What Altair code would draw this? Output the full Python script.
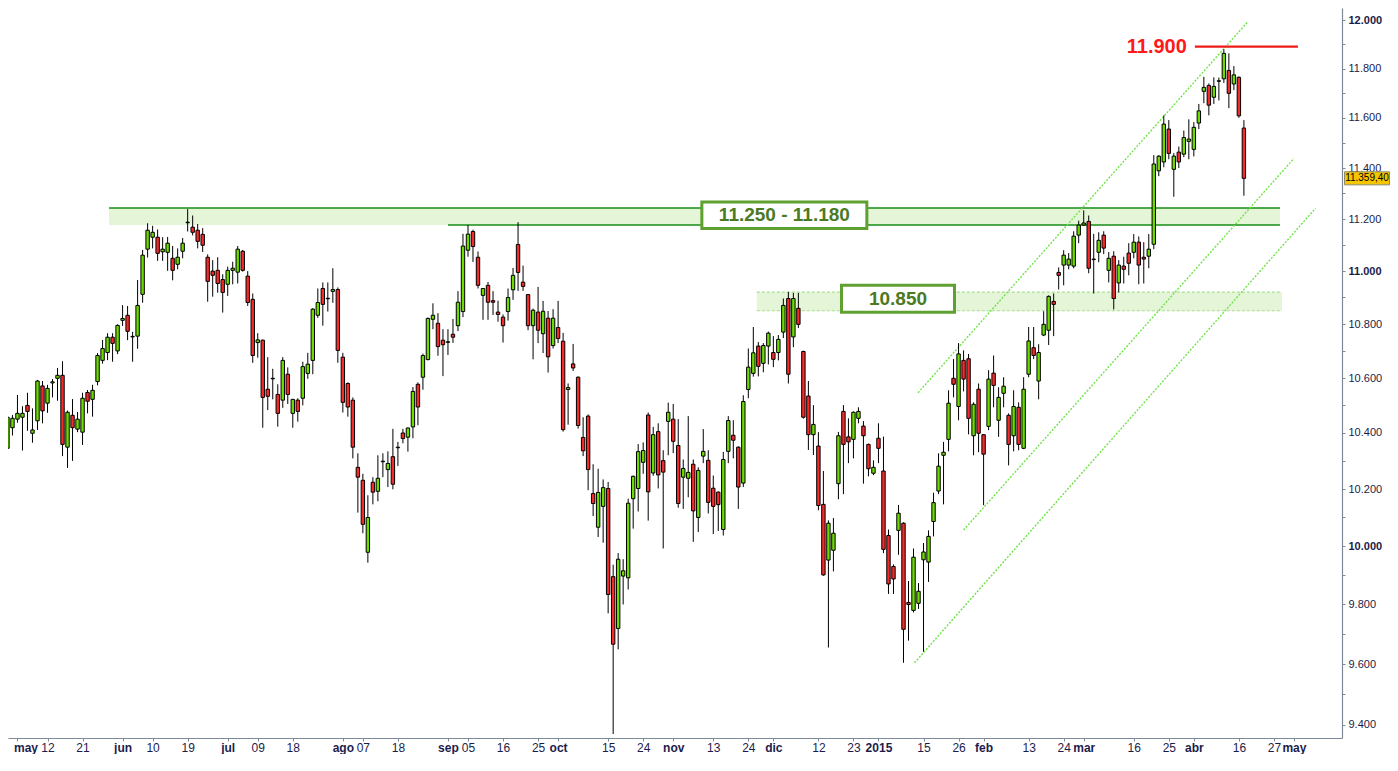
import json
import altair as alt
import pandas as pd

# ---------------- candle data (trading-day index starts at FIRST_IDX) ----------------
FIRST_IDX = -2
opens = [
    10345, 10419, 10450, 10457, 10500, 10399, 10444, 10571, 10508, 10582,
    10599, 10610, 10349, 10464, 10414, 10403, 10547, 10522, 10587, 10665,
    10694, 10751, 10700, 10814, 10833, 10752, 10755, 10912, 11084, 11130,
    11130, 11074, 11072, 11049, 11026, 11076, 11186, 11169, 11157, 11141,
    11053, 11000, 11003, 10968, 10950, 11003, 10996, 11076, 10981, 10893,
    10731, 10740, 10559, 10597, 10540, 10519, 10614, 10471, 10519, 10526,
    10617, 10665, 10833, 10934, 10895, 10923, 10930, 10677, 10580, 10519,
    10277, 10231, 9979, 10224, 10192, 10297, 10269, 10315, 10347, 10400,
    10385, 10422, 10577, 10603, 10668, 10818, 10803, 10740, 10732, 10762,
    10794, 10847, 11080, 11152, 11053, 10908, 10946, 10888, 10845, 10826,
    10847, 10929, 11102, 10958, 10911, 10794, 10845, 10764, 10822, 10720,
    10787, 10736, 10558, 10652, 10603, 10384, 10461, 10184, 10066, 10139,
    10202, 9895, 9719, 9897, 9891, 10166, 10202, 10295, 10465, 10257,
    10405, 10301, 10442, 10450, 10355, 10242, 10238, 10288, 10100, 10317,
    10302, 10203, 10189, 10058, 10334, 10392, 10349, 10221, 10558, 10617,
    10718, 10654, 10718, 10694, 10694, 10770, 10896, 10752, 10859, 10698,
    10534, 10394, 10353, 10146, 9952, 9986, 10219, 10478, 10386, 10377,
    10453, 10425, 10359, 10256, 10381, 10264, 10037, 9930, 10055, 10080,
    9807, 9780, 9804, 9953, 9945, 10086, 10193, 10320, 10377, 10599,
    10496, 10665, 10671, 10390, 10559, 10394, 10424, 10618, 10446, 10544,
    10464, 10390, 10493, 10345, 10614, 10712, 10589, 10759, 10777, 10885,
    10995, 11023, 11023, 11019, 11138, 11177, 11191, 11044, 11072, 11138,
    11003, 11057, 10955, 11019, 11069, 11072, 11111, 11053, 11057, 11103,
    11389, 11424, 11555, 11395, 11463, 11455, 11506, 11474, 11579, 11707,
    11731, 11683, 11748, 11758, 11792, 11737, 11764, 11559,
]
highs = [
    10486, 10465, 10538, 10497, 10546, 10489, 10593, 10589, 10575, 10596,
    10637, 10662, 10481, 10523, 10476, 10546, 10556, 10575, 10692, 10741,
    10766, 10766, 10799, 10871, 10868, 10771, 10966, 11081, 11184, 11174,
    11160, 11130, 11131, 11096, 11087, 11127, 11239, 11214, 11181, 11165,
    11064, 11042, 11053, 10988, 11017, 11036, 11096, 11081, 11000, 10915,
    10766, 10742, 10677, 10634, 10577, 10677, 10639, 10522, 10526, 10660,
    10693, 10860, 10934, 10957, 10957, 11011, 10938, 10693, 10584, 10529,
    10327, 10254, 10178, 10242, 10320, 10327, 10334, 10415, 10368, 10415,
    10420, 10567, 10584, 10690, 10825, 10878, 10841, 10781, 10781, 10819,
    10924, 11143, 11177, 11159, 11075, 10934, 10959, 10924, 10888, 10836,
    10934, 11012, 11188, 11021, 10911, 10858, 10940, 10887, 10849, 10856,
    10887, 10767, 10580, 10726, 10606, 10457, 10467, 10288, 10272, 10234,
    10225, 9936, 9976, 9955, 10166, 10248, 10360, 10366, 10474, 10422,
    10435, 10338, 10510, 10505, 10450, 10305, 10461, 10305, 10277, 10414,
    10338, 10248, 10192, 10332, 10461, 10446, 10352, 10537, 10709, 10789,
    10733, 10729, 10772, 10755, 10759, 10896, 10921, 10917, 10917, 10701,
    10589, 10501, 10403, 10264, 10090, 10098, 10404, 10501, 10453, 10478,
    10493, 10443, 10362, 10302, 10435, 10387, 10058, 9937, 10144, 10083,
    9880, 9992, 9873, 10011, 10055, 10187, 10327, 10368, 10555, 10670,
    10729, 10702, 10689, 10511, 10580, 10396, 10629, 10683, 10566, 10603,
    10471, 10555, 10511, 10603, 10789, 10789, 10725, 10848, 10908, 10915,
    11014, 11080, 11069, 11153, 11194, 11234, 11214, 11143, 11149, 11153,
    11073, 11076, 11042, 11055, 11107, 11142, 11133, 11111, 11142, 11451,
    11451, 11610, 11591, 11459, 11485, 11549, 11594, 11583, 11656, 11766,
    11739, 11764, 11763, 11879, 11862, 11810, 11768, 11591,
]
lows = [
    10337, 10391, 10437, 10337, 10408, 10365, 10411, 10435, 10473, 10529,
    10517, 10317, 10275, 10300, 10403, 10357, 10471, 10459, 10573, 10653,
    10666, 10660, 10688, 10793, 10740, 10660, 10708, 10880, 11052, 11087,
    11039, 11039, 11001, 10965, 11007, 11049, 11152, 11137, 11087, 11073,
    10884, 10903, 10918, 10843, 10906, 10950, 10953, 10998, 10868, 10656,
    10675, 10419, 10483, 10522, 10423, 10491, 10505, 10419, 10441, 10500,
    10597, 10614, 10823, 10794, 10847, 10880, 10656, 10474, 10459, 10309,
    10117, 10045, 9943, 10146, 10157, 10242, 10207, 10199, 10282, 10363,
    10333, 10381, 10428, 10557, 10665, 10781, 10682, 10607, 10685, 10730,
    10774, 10826, 11055, 11035, 10934, 10816, 10816, 10834, 10809, 10731,
    10813, 10891, 10925, 10925, 10777, 10669, 10729, 10692, 10620, 10709,
    10729, 10405, 10430, 10626, 10416, 10317, 10196, 10105, 10032, 10012,
    9770, 9370, 9649, 9800, 9851, 10061, 10121, 10254, 10089, 10247,
    10202, 9992, 10320, 10328, 10134, 10130, 10171, 10015, 10049, 10292,
    10114, 10042, 10053, 10037, 10292, 10309, 10130, 10207, 10526, 10605,
    10606, 10621, 10650, 10640, 10665, 10748, 10580, 10714, 10785, 10452,
    10339, 10321, 10125, 9898, 9655, 9913, 10164, 10182, 10292, 10309,
    10435, 10219, 10245, 10249, 10292, 9976, 9836, 9836, 9970, 9604,
    9678, 9773, 9785, 9641, 9877, 10034, 10182, 10146, 10334, 10529,
    10446, 10551, 10395, 10320, 10331, 10143, 10410, 10493, 10386, 10493,
    10284, 10334, 10338, 10342, 10603, 10670, 10522, 10755, 10722, 10755,
    10930, 10946, 11007, 11011, 11107, 11174, 10992, 10915, 11034, 11065,
    10957, 10855, 10919, 10953, 10984, 11049, 10950, 10953, 11011, 11084,
    11368, 11403, 11435, 11287, 11400, 11443, 11435, 11446, 11555, 11659,
    11610, 11656, 11670, 11741, 11639, 11712, 11600, 11291,
]
closes = [
    10457, 10453, 10471, 10471, 10478, 10411, 10589, 10480, 10562, 10586,
    10610, 10359, 10475, 10419, 10450, 10526, 10515, 10555, 10683, 10709,
    10751, 10728, 10795, 10821, 10773, 10754, 10870, 11061, 11157, 11149,
    11068, 11084, 11107, 11003, 11053, 11107, 11188, 11149, 11114, 11099,
    10961, 10984, 10953, 10919, 11003, 11011, 11084, 11003, 10881, 10683,
    10741, 10529, 10533, 10599, 10471, 10665, 10540, 10522, 10478, 10642,
    10651, 10856, 10881, 10874, 10897, 10930, 10702, 10511, 10494, 10349,
    10242, 10076, 10100, 10189, 10238, 10299, 10291, 10217, 10349, 10380,
    10418, 10551, 10494, 10683, 10821, 10833, 10716, 10723, 10734, 10751,
    10882, 11096, 11142, 11094, 10946, 10934, 10882, 10882, 10836, 10794,
    10900, 10984, 10995, 10942, 10794, 10852, 10777, 10848, 10678, 10822,
    10746, 10412, 10565, 10637, 10427, 10336, 10269, 10149, 10188, 10205,
    9834, 9666, 9955, 9915, 10150, 10245, 10333, 10337, 10190, 10394,
    10250, 10260, 10475, 10370, 10149, 10273, 10259, 10123, 10266, 10334,
    10153, 10139, 10145, 10305, 10445, 10374, 10207, 10514, 10640, 10693,
    10643, 10720, 10766, 10669, 10743, 10870, 10614, 10896, 10799, 10457,
    10394, 10431, 10142, 9901, 10080, 10045, 10390, 10359, 10368, 10475,
    10478, 10390, 10272, 10277, 10345, 9989, 9870, 9887, 10115, 9716,
    9800, 9962, 9845, 9980, 10034, 10152, 10281, 10331, 10508, 10577,
    10689, 10596, 10453, 10504, 10399, 10324, 10596, 10573, 10529, 10570,
    10359, 10496, 10359, 10559, 10737, 10683, 10694, 10799, 10904, 10874,
    10984, 11061, 11046, 11134, 11177, 11185, 11011, 11046, 11118, 11088,
    11049, 10896, 11023, 11007, 11030, 11111, 11023, 11046, 11084, 11416,
    11447, 11575, 11458, 11447, 11424, 11521, 11515, 11562, 11628, 11723,
    11651, 11727, 11750, 11862, 11699, 11774, 11608, 11359.4,
]

# ---------------- axis ticks ----------------
x_ticks = [0, 6, 13, 21, 27, 34, 42, 48, 55, 65, 69, 76, 86, 90, 97, 104, 108, 118, 125,
           131, 139, 146, 151, 160, 167, 172, 181, 188, 193, 202, 209, 213, 223, 230,
           235, 244, 251, 255]
x_labels = ["may", "12", "21", "jun", "10", "19", "jul", "09", "18", "ago", "07", "18",
            "sep", "05", "16", "25", "oct", "15", "24", "nov", "13", "24", "dic", "12",
            "23", "2015", "15", "26", "feb", "13", "24", "mar", "16", "25", "abr", "16",
            "27", "may"]
month_ticks = [0, 21, 42, 65, 86, 108, 131, 151, 172, 193, 213, 235, 255]
y_ticks = list(range(9400, 12001, 100))

# ---------------- annotations (trading-day index, index level) ----------------
zone1_levels = [11177, 11243]
zone1_span = [18.3, 252.2]
zone1_bottom_line_start = 86
zone2_levels = [10850, 10920]
zone2_span = [147.7, 252.6]

channel_names = ["A", "A", "B", "B", "C", "C"]
channel_idx = [179.9, 245.8, 189.0, 255.0, 179.2, 259.3]
channel_val = [10546, 11993, 10056, 11438, 9604, 11242]

box_texts = ["11.250 - 11.180", "10.850"]
box_idx = [153.2, 175.9]
box_val = [11215, 10895]

top_level = 11890
top_level_span = [235.2, 255.8]
top_text = "11.900"
top_text_idx = 233.6

# ---------------- styling ----------------
GREEN = "#6cdc00"
RED = "#f52a2a"
AXIS_C = "#7d8b99"
ZONE_FILL = "#e4f5d8"
ZONE_LINE = "#168c16"
ZONE2_LINE = "#a6df8c"
CHANNEL = "#6fe448"
BOX_STROKE = "#5fa030"
BOX_TEXT = "#4b7a22"

W, H = 1334, 730
xscale = alt.Scale(domain=[-0.892, 263.6], nice=False, zero=False)
yscale = alt.Scale(type="log", domain=[9357, 12050], nice=False, zero=False)

month_test = f"indexof({json.dumps(month_ticks)}, datum.value) >= 0"
x_axis = alt.Axis(
    orient="bottom", values=x_ticks, title=None, grid=False,
    labelExpr=f"{json.dumps(x_labels)}[indexof({json.dumps(x_ticks)}, datum.value)]",
    tickSize=3, tickColor=AXIS_C, domainColor=AXIS_C, domainWidth=1.2, tickWidth=1,
    labelPadding=1, labelFontSize=12, labelColor="#1c1c4c",
    labelFontWeight={"condition": {"test": month_test, "value": "bold"}, "value": "normal"},
    labelFont={"condition": {"test": month_test, "value": "Liberation Sans"},
               "value": "Liberation Sans Narrow, Liberation Sans"},
    labelAlign={"condition": {"test": "datum.value == 0", "value": "left"}, "value": "center"},
    labelOffset={"condition": {"test": "datum.value == 0", "value": -4}, "value": 0},
    labelOverlap=False, labelFlush=False, labelBound=False,
)
y_axis = alt.Axis(
    orient="right", values=y_ticks, title=None, grid=False,
    labelExpr="datum.value % 200 == 0 ? replace(format(datum.value, ',.0f'), ',', '.') : ''",
    tickSize=3, tickColor=AXIS_C, domainColor=AXIS_C, domainWidth=1.2,
    labelPadding=3, labelFontSize=11, labelFont="Liberation Sans", labelColor="#1b1b48",
    labelFontWeight={"condition": {"test": "datum.value % 1000 == 0", "value": "bold"},
                     "value": "normal"},
    labelOverlap=False, labelFlush=False, labelBound=False,
)


def X(f):
    return alt.X(f, type="quantitative", scale=xscale, axis=x_axis, title=None)


def Y(f):
    return alt.Y(f, type="quantitative", scale=yscale, axis=y_axis, title=None)


n = len(opens)
candles = pd.DataFrame({
    "idx": list(range(FIRST_IDX, FIRST_IDX + n)),
    "open": opens, "high": highs, "low": lows, "close": closes,
})

zones = pd.DataFrame({
    "x": [zone1_span[0], zone2_span[0]], "x2": [zone1_span[1], zone2_span[1]],
    "lo": [zone1_levels[0], zone2_levels[0]], "hi": [zone1_levels[1], zone2_levels[1]],
})
zone1_lines = pd.DataFrame({
    "x": [zone1_span[0], zone1_bottom_line_start],
    "x2": [zone1_span[1], zone1_span[1]],
    "y": [zone1_levels[1], zone1_levels[0]],
})
zone2_lines = pd.DataFrame({
    "x": [zone2_span[0], zone2_span[0]], "x2": [zone2_span[1], zone2_span[1]],
    "y": [zone2_levels[0], zone2_levels[1]],
})
channels = pd.DataFrame({"line": channel_names, "idx": channel_idx, "val": channel_val})
boxes = pd.DataFrame({"text": box_texts, "idx": box_idx, "val": box_val})
top_df = pd.DataFrame({"x": [top_level_span[0]], "x2": [top_level_span[1]], "y": [top_level],
                       "tx": [top_text_idx], "text": [top_text]})
last = closes[-1]
tag_df = pd.DataFrame({"price": [last],
                       "label": [f"{last:,.2f}".replace(",", "#").replace(".", ",").replace("#", ".")]})

zone_rect = alt.Chart(zones).mark_rect(color=ZONE_FILL, clip=True).encode(
    x=X("x"), x2="x2", y=Y("lo"), y2="hi")
z1 = alt.Chart(zone1_lines).mark_rule(color=ZONE_LINE, strokeWidth=1.5, clip=True).encode(
    x=X("x"), x2="x2", y=Y("y"))
z2 = alt.Chart(zone2_lines).mark_rule(color=ZONE2_LINE, strokeWidth=1.2, strokeDash=[3, 2],
                                      clip=True).encode(x=X("x"), x2="x2", y=Y("y"))
chan = alt.Chart(channels).mark_line(color=CHANNEL, strokeWidth=1.4, strokeDash=[2, 1.5],
                                     clip=True).encode(x=X("idx"), y=Y("val"), detail="line:N")
wicks = alt.Chart(candles).mark_rule(color="black", strokeWidth=1, clip=True).encode(
    x=X("idx"), y=Y("low"), y2="high")
bodies = alt.Chart(candles).mark_bar(size=3.4, stroke="black", strokeWidth=1, opacity=1,
                                     clip=True).encode(
    x=X("idx"), y=Y("open"), y2="close",
    fill=alt.condition("datum.close >= datum.open", alt.value(GREEN), alt.value(RED)))
top_line = alt.Chart(top_df).mark_rule(color="#ee1b1b", strokeWidth=2.2).encode(
    x=X("x"), x2="x2", y=Y("y"))
top_txt = alt.Chart(top_df).mark_text(align="right", baseline="middle", font="Liberation Sans",
                                      fontSize=20, fontWeight="bold", color="#ff1a1a").encode(
    x=X("tx"), y=Y("y"), text="text")

box1 = alt.Chart(boxes.iloc[[0]]).mark_point(
    shape="M-1,-0.161L1,-0.161L1,0.161L-1,0.161Z", size=27225, filled=True, fill="white",
    stroke=BOX_STROKE, strokeWidth=3, opacity=1).encode(x=X("idx"), y=Y("val"))
box2 = alt.Chart(boxes.iloc[[1]]).mark_point(
    shape="M-1,-0.239L1,-0.239L1,0.239L-1,0.239Z", size=12769, filled=True, fill="white",
    stroke=BOX_STROKE, strokeWidth=3, opacity=1).encode(x=X("idx"), y=Y("val"))
box_txt = alt.Chart(boxes).mark_text(align="center", baseline="middle", font="Liberation Sans",
                                     fontSize=19, fontWeight="bold", color=BOX_TEXT).encode(
    x=X("idx"), y=Y("val"), text="text")

tag = alt.Chart(tag_df).mark_point(
    shape="M-1,-0.29L1,-0.29L1,0.29L-1,0.29Z", size=2025, filled=True, fill="#f5c500",
    stroke="#8c8a70", strokeWidth=1, opacity=1).encode(x=alt.value(W + 25), y=Y("price"))
tag_txt = alt.Chart(tag_df).mark_text(align="center", baseline="middle", font="Liberation Sans",
                                      fontSize=10, color="black").encode(
    x=alt.value(W + 25), y=Y("price"), text="label")

chart = alt.layer(
    zone_rect, z1, z2, chan, wicks, bodies, top_line, top_txt, box1, box2, box_txt, tag, tag_txt
).properties(
    width=W, height=H, background="white",
    autosize=alt.AutoSizeParams(type="none"),
    padding={"left": 0, "top": 0, "right": 48, "bottom": 16},
).configure_view(stroke=None)

chart.save("out.html", embed_options={"renderer": "svg", "actions": False})
